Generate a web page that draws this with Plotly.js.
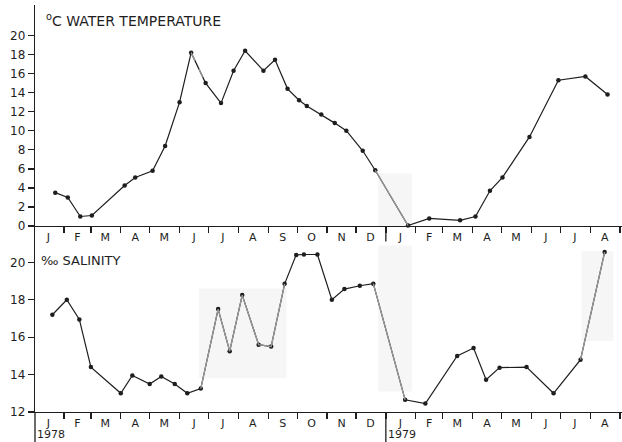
<!DOCTYPE html>
<html>
<head>
<meta charset="utf-8">
<script src="https://cdn.plot.ly/plotly-3.0.1.min.js"></script>
<style>html,body{margin:0;padding:0;background:#fff;}#chart{width:622px;height:442px;}</style>
</head>
<body>
<div id="chart"></div>
<script>
// Water temperature (°C)
var tempDates = ['1978-01-23','1978-02-05','1978-02-18','1978-03-02','1978-04-05','1978-04-16','1978-05-04','1978-05-17','1978-06-01','1978-06-13','1978-06-28','1978-07-14','1978-07-27','1978-08-08','1978-08-27','1978-09-08','1978-09-21','1978-10-03','1978-10-11','1978-10-26','1978-11-09','1978-11-21','1978-12-08','1978-12-21','1979-01-24','1979-02-15','1979-03-19','1979-04-04','1979-04-19','1979-05-02','1979-05-30','1979-06-29','1979-07-27','1979-08-19'];
var tempValues = [3.5,3.0,1.0,1.1,4.25,5.1,5.8,8.4,13.0,18.2,15.0,12.9,16.3,18.4,16.3,17.45,14.4,13.2,12.6,11.7,10.8,10.0,7.9,5.85,0.05,0.8,0.6,1.0,3.7,5.1,9.35,15.3,15.7,13.8];

// Salinity (‰)
var salDates = ['1978-01-20','1978-02-04','1978-02-17','1978-03-01','1978-04-01','1978-04-13','1978-05-01','1978-05-13','1978-05-27','1978-06-09','1978-06-23','1978-07-11','1978-07-23','1978-08-05','1978-08-22','1978-09-04','1978-09-18','1978-09-30','1978-10-08','1978-10-22','1978-11-06','1978-11-19','1978-12-05','1978-12-19','1979-01-21','1979-02-11','1979-03-16','1979-04-02','1979-04-15','1979-04-29','1979-05-27','1979-06-24','1979-07-22','1979-08-16'];
var salValues = [17.2,18.0,16.95,14.4,13.0,13.95,13.5,13.9,13.5,13.0,13.25,17.5,15.25,18.25,15.6,15.5,18.85,20.4,20.42,20.42,18.0,18.57,18.75,18.86,12.65,12.45,15.0,15.42,13.73,14.37,14.4,13.0,14.8,20.55];

// Month axis labels
var monthTickVals = ['1978-01-16','1978-02-15','1978-03-16','1978-04-16','1978-05-16','1978-06-16','1978-07-16','1978-08-16','1978-09-16','1978-10-16','1978-11-16','1978-12-16','1979-01-16','1979-02-15','1979-03-16','1979-04-16','1979-05-16','1979-06-16','1979-07-16','1979-08-16'];
var monthTickText = ['J','F','M','A','M','J','J','A','S','O','N','D','J','F','M','A','M','J','J','A'];
var tempTicks = [0,2,4,6,8,10,12,14,16,18,20];
var salTicks = [12,14,16,18,20];
var tempTitle = '<sup>o</sup>C WATER TEMPERATURE';
var salTitle = '‰ SALINITY';
var yearLabels = ['1978','1979'];
var yearStarts = ['1978-01-02','1979-01-01'];

var ink = '#1e1e1e';
var grey = '#9a9a9a';
var fam = 'DejaVu Sans, Liberation Sans, Arial, sans-serif';
var font = {family:fam, size:12, color:ink};

function mainTrace(x, y, xa, ya) {
  return {x:x, y:y, xaxis:xa, yaxis:ya, type:'scatter', mode:'lines+markers',
    line:{color:ink, width:1.2}, marker:{color:ink, size:4.5}, showlegend:false, hoverinfo:'x+y', cliponaxis:false};
}
function greyTrace(x, y, i0, i1, xa, ya, dash) {
  return {x:x.slice(i0,i1), y:y.slice(i0,i1), xaxis:xa, yaxis:ya, type:'scatter', mode:'lines',
    line:{color:grey, width:1.3, dash:dash||'solid'}, showlegend:false, hoverinfo:'skip'};
}

var data = [
  mainTrace(tempDates, tempValues, 'x', 'y'),
  greyTrace(tempDates, tempValues, 9, 11, 'x', 'y', 'dash'),
  greyTrace(tempDates, tempValues, 23, 25, 'x', 'y'),
  mainTrace(salDates, salValues, 'x2', 'y2'),
  greyTrace(salDates, salValues, 10, 17, 'x2', 'y2'),
  greyTrace(salDates, salValues, 23, 25, 'x2', 'y2'),
  greyTrace(salDates, salValues, 32, 34, 'x2', 'y2')
];

var xRange = ['1978-01-02', '1979-09-03'];
function xAxis(anchor) {
  return {
    type:'date', range:xRange, anchor:anchor, domain:[0,1],
    tickmode:'array', tickvals:monthTickVals, ticktext:monthTickText,
    ticks:'', showgrid:false, zeroline:false, showline:true, linecolor:ink, linewidth:1.3,
    tickfont:{family:fam, size:11, color:ink},
    minor:{tickmode:'linear', tick0:'1978-01-01', dtick:'M1', ticks:'outside', ticklen:6, tickwidth:1.3, tickcolor:ink, showgrid:false}
  };
}
function yAxis(anchor, domain, range, ticks) {
  return {
    anchor:anchor, domain:domain, range:range, tickmode:'array', tickvals:ticks,
    ticks:'outside', ticklen:6, tickwidth:1.3, tickcolor:ink,
    showgrid:false, zeroline:false, showline:true, linecolor:ink, linewidth:1.3,
    tickfont:{family:fam, size:12, color:ink}
  };
}

var layout = {
  width:622, height:442,
  margin:{l:35, r:0, t:5, b:30},
  paper_bgcolor:'#fff', plot_bgcolor:'#fff',
  font:font,
  xaxis: xAxis('y'),
  yaxis: yAxis('x', [0.457, 1], [0, 23.2], tempTicks),
  xaxis2: xAxis('y2'),
  yaxis2: yAxis('x2', [0, 0.455], [12, 21.9], salTicks),
  shapes: [
    {type:'rect', xref:'x', yref:'y', x0:'1978-12-24', x1:'1979-01-28', y0:0, y1:5.5, fillcolor:'#f6f6f6', line:{width:0}, layer:'below'},
    {type:'rect', xref:'x2', yref:'y2', x0:'1978-06-21', x1:'1978-09-20', y0:13.8, y1:18.6, fillcolor:'#f6f6f6', line:{width:0}, layer:'below'},
    {type:'rect', xref:'x2', yref:'y2', x0:'1978-12-24', x1:'1979-01-28', y0:13.1, y1:20.9, fillcolor:'#f6f6f6', line:{width:0}, layer:'below'},
    {type:'rect', xref:'x2', yref:'y2', x0:'1979-07-23', x1:'1979-08-25', y0:15.8, y1:20.6, fillcolor:'#f6f6f6', line:{width:0}, layer:'below'},
    {type:'line', xref:'x', yref:'y domain', x0:yearStarts[1], x1:yearStarts[1], y0:0, y1:-0.07, line:{color:ink, width:1.3}},
    {type:'line', xref:'x2', yref:'y2 domain', x0:yearStarts[1], x1:yearStarts[1], y0:0, y1:-0.17, line:{color:ink, width:1.3}},
    {type:'line', xref:'paper', yref:'y2 domain', x0:0, x1:0, y0:0, y1:-0.17, line:{color:ink, width:1.3}}
  ],
  annotations: [
    {xref:'paper', yref:'y domain', x:0.016, y:0.93, xanchor:'left', yanchor:'middle', showarrow:false,
     text:tempTitle, font:{family:fam, size:14, color:ink}},
    {xref:'paper', yref:'y2 domain', x:0.006, y:0.82, xanchor:'left', yanchor:'middle', showarrow:false,
     text:salTitle, font:{family:fam, size:13, color:ink}},
    {xref:'x2', yref:'paper', x:yearStarts[0], y:0, yshift:-22, xanchor:'left', yanchor:'middle', showarrow:false,
     text:yearLabels[0], font:{family:fam, size:11, color:ink}},
    {xref:'x2', yref:'paper', x:yearStarts[1], y:0, yshift:-22, xanchor:'left', yanchor:'middle', showarrow:false,
     text:yearLabels[1], font:{family:fam, size:11, color:ink}}
  ]
};

Plotly.newPlot('chart', data, layout, {displayModeBar:false, staticPlot:true});
</script>
</body>
</html>
